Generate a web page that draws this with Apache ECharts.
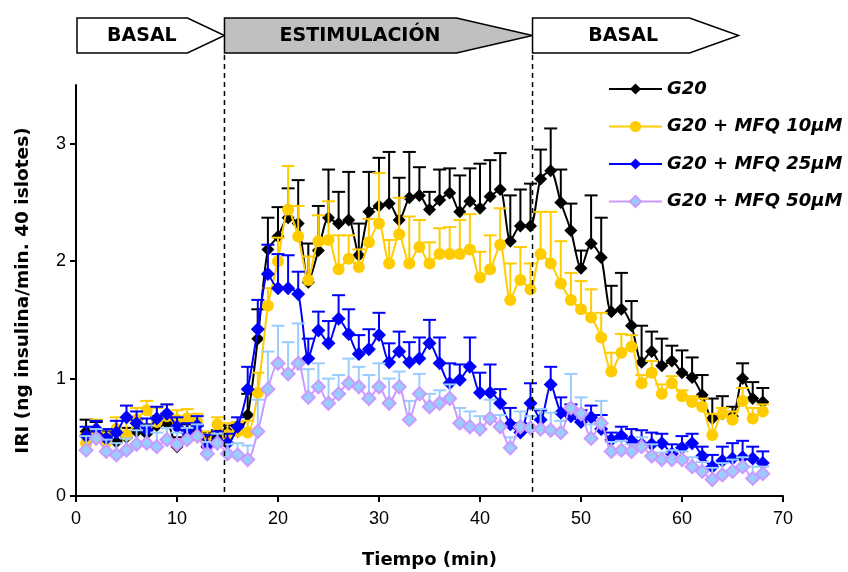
<!DOCTYPE html>
<html><head><meta charset="utf-8">
<script src="https://cdn.jsdelivr.net/npm/echarts@6/dist/echarts.min.js"></script>
<style>html,body{margin:0;padding:0;background:#fff}#c{width:848px;height:572px}</style>
</head><body><div id="c"></div>
<script>
// Time points (min)
const times = [];
for (let t = 1; t <= 68; t++) times.push(t);

const xTicks = [0, 10, 20, 30, 40, 50, 60, 70];
const yTicks = [0, 1, 2, 3];

const seriesNames = ['G20', 'G20 + MFQ 10µM', 'G20 + MFQ 25µM', 'G20 + MFQ 50µM'];
const phaseLabels = ['BASAL', 'ESTIMULACIÓN', 'BASAL'];
const phaseBounds = [14.7, 45.2];

const g20 = [0.55,0.55,0.50,0.46,0.50,0.55,0.53,0.60,0.62,0.42,0.55,0.55,0.48,0.50,0.55,0.55,
  0.69,1.34,2.10,2.21,2.37,2.32,1.82,2.09,2.37,2.32,2.35,2.05,2.42,2.47,2.49,2.35,2.54,2.56,2.44,2.52,
  2.58,2.42,2.51,2.45,2.55,2.61,2.17,2.30,2.30,2.70,2.77,2.50,2.26,1.94,2.15,2.03,1.57,1.59,1.45,1.14,
  1.23,1.11,1.15,1.05,1.01,0.86,0.66,0.70,0.68,1.00,0.83,0.80];
const g20Err = [0.10,0.08,0.05,0.06,0.08,0.10,0.08,0.08,0.08,0.08,0.06,0.05,0.06,0.06,0.05,0.06,
  0.18,0.25,0.27,0.25,0.25,0.37,0.33,0.38,0.41,0.27,0.41,0.27,0.34,0.41,0.44,0.36,0.39,0.24,0.15,0.26,
  0.21,0.31,0.28,0.38,0.31,0.31,0.39,0.31,0.36,0.25,0.36,0.28,0.23,0.15,0.41,0.34,0.22,0.31,0.21,0.31,
  0.17,0.23,0.13,0.19,0.17,0.17,0.17,0.15,0.08,0.13,0.14,0.12];

const mfq10 = [0.45,0.55,0.46,0.57,0.52,0.65,0.73,0.63,0.68,0.65,0.66,0.63,0.45,0.61,0.52,0.55,
  0.54,0.88,1.62,2.00,2.44,2.21,1.84,2.17,2.18,1.93,2.02,1.95,2.16,2.32,1.98,2.23,1.98,2.12,1.98,2.06,
  2.06,2.06,2.10,1.86,1.93,2.14,1.67,1.84,1.76,2.06,1.98,1.81,1.67,1.59,1.52,1.35,1.06,1.22,1.27,0.96,
  1.05,0.87,0.96,0.85,0.80,0.76,0.52,0.70,0.65,0.81,0.66,0.72];
const mfq10Err = [0.08,0.10,0.08,0.10,0.12,0.10,0.08,0.12,0.10,0.08,0.08,0.07,0.10,0.06,0.10,0.08,
  0.10,0.17,0.15,0.20,0.37,0.26,0.20,0.22,0.33,0.29,0.20,0.15,0.20,0.43,0.20,0.31,0.40,0.23,0.18,0.22,
  0.23,0.29,0.30,0.22,0.29,0.31,0.31,0.28,0.22,0.36,0.44,0.36,0.23,0.24,0.24,0.21,0.16,0.16,0.10,0.07,
  0.10,0.08,0.06,0.05,0.05,0.07,0.18,0.05,0.07,0.11,0.09,0.06];

const mfq25 = [0.51,0.57,0.49,0.54,0.67,0.62,0.56,0.66,0.70,0.59,0.54,0.60,0.42,0.47,0.45,0.59,
  0.91,1.42,1.89,1.77,1.77,1.72,1.17,1.41,1.30,1.51,1.38,1.21,1.25,1.37,1.14,1.23,1.14,1.17,1.30,1.13,
  0.96,0.99,1.10,0.88,0.88,0.79,0.61,0.54,0.79,0.65,0.95,0.71,0.68,0.63,0.67,0.57,0.48,0.51,0.47,0.44,
  0.44,0.45,0.36,0.41,0.45,0.34,0.25,0.30,0.32,0.33,0.32,0.28];
const mfq25Err = [0.08,0.07,0.08,0.10,0.10,0.10,0.10,0.10,0.08,0.08,0.08,0.08,0.10,0.08,0.08,0.08,
  0.19,0.25,0.25,0.29,0.28,0.19,0.17,0.16,0.19,0.20,0.21,0.16,0.17,0.19,0.16,0.17,0.17,0.18,0.20,0.22,
  0.17,0.13,0.25,0.17,0.24,0.12,0.14,0.08,0.17,0.08,0.15,0.13,0.10,0.10,0.10,0.12,0.06,0.08,0.10,0.12,
  0.10,0.08,0.08,0.10,0.08,0.08,0.10,0.12,0.13,0.14,0.10,0.10];

const mfq50 = [0.39,0.49,0.38,0.35,0.39,0.44,0.45,0.42,0.48,0.44,0.48,0.51,0.36,0.45,0.36,0.35,
  0.31,0.55,0.91,1.13,1.04,1.13,0.84,0.93,0.79,0.87,0.96,0.93,0.83,0.93,0.79,0.93,0.65,0.87,0.76,0.79,
  0.83,0.62,0.59,0.57,0.66,0.59,0.41,0.59,0.58,0.57,0.56,0.54,0.75,0.70,0.49,0.62,0.38,0.39,0.38,0.42,
  0.34,0.31,0.31,0.31,0.25,0.21,0.14,0.18,0.21,0.25,0.15,0.19];
const mfq50Err = [0.12,0.08,0.10,0.10,0.10,0.12,0.15,0.12,0.10,0.10,0.10,0.10,0.10,0.08,0.08,0.10,
  0.12,0.27,0.32,0.32,0.27,0.34,0.24,0.20,0.21,0.16,0.21,0.17,0.20,0.20,0.21,0.13,0.16,0.17,0.11,0.11,
  0.12,0.13,0.13,0.11,0.16,0.10,0.09,0.13,0.10,0.17,0.15,0.10,0.29,0.14,0.12,0.19,0.08,0.08,0.06,0.08,
  0.10,0.06,0.08,0.07,0.08,0.08,0.10,0.10,0.10,0.08,0.10,0.06];

const chart = echarts.init(document.getElementById('c'), null, {renderer: 'canvas'});

function pairs(vals) { return vals.map((v, i) => [times[i], v]); }

function errSeries(name, vals, errs, color, z) {
  return {
    type: 'custom', name: name + ' err', z: z, silent: true,
    encode: {x: 0, y: [1, 2]},
    data: vals.map((v, i) => [times[i], v, v + errs[i]]),
    renderItem: function (params, api) {
      const p0 = api.coord([api.value(0), api.value(1)]);
      const p1 = api.coord([api.value(0), api.value(2)]);
      const hw = 6.5;
      return {type: 'group', children: [
        {type: 'line', shape: {x1: p0[0], y1: p0[1], x2: p1[0], y2: p1[1]}, style: {stroke: color, lineWidth: 2}},
        {type: 'line', shape: {x1: p1[0] - hw, y1: p1[1], x2: p1[0] + hw, y2: p1[1]}, style: {stroke: color, lineWidth: 2}}
      ]};
    }
  };
}

function lineSeries(name, vals, symbol, size, lineColor, fill, border, z) {
  return {
    type: 'line', name: name, z: z, data: pairs(vals), smooth: 0.25,
    symbol: symbol, symbolSize: size, showSymbol: true,
    lineStyle: {color: lineColor, width: 2},
    itemStyle: {color: fill, borderColor: border, borderWidth: border === fill ? 0 : 2},
    emphasis: {disabled: true}
  };
}

const option = {
  animation: false,
  backgroundColor: '#ffffff',
  grid: {left: 76, right: 65, top: 85, bottom: 76, containLabel: false, outerBoundsMode: 'none'},
  legend: {
    data: seriesNames, orient: 'vertical', left: 603, top: 75,
    itemWidth: 53, itemHeight: 14, itemGap: 19.5,
    textStyle: {fontFamily: 'DejaVu Sans', fontWeight: 'bold', fontStyle: 'italic', fontSize: 18, color: '#000'}
  },
  xAxis: {
    type: 'value', min: 0, max: 70, interval: 10,
    name: 'Tiempo (min)', nameLocation: 'middle', nameGap: 55,
    nameTextStyle: {fontFamily: 'DejaVu Sans', fontWeight: 'bold', fontSize: 18, color: '#000'},
    axisLine: {lineStyle: {color: '#000', width: 2}},
    axisTick: {show: true, length: 6, lineStyle: {color: '#000', width: 2}, customValues: xTicks},
    axisLabel: {fontFamily: 'Liberation Sans', fontSize: 18, color: '#000', margin: 14, customValues: xTicks},
    splitLine: {show: false}
  },
  yAxis: {
    type: 'value', min: 0, max: 3.5, interval: 1,
    name: 'IRI (ng insulina/min. 40 islotes)', nameLocation: 'middle', nameGap: 43, nameRotate: 90,
    nameTextStyle: {fontFamily: 'DejaVu Sans', fontWeight: 'bold', fontSize: 18.5, color: '#000'},
    axisLine: {show: true, lineStyle: {color: '#000', width: 2}},
    axisTick: {show: true, length: 6, lineStyle: {color: '#000', width: 2}, customValues: yTicks},
    axisLabel: {fontFamily: 'Liberation Sans', fontSize: 18, color: '#000', margin: 10, customValues: yTicks},
    splitLine: {show: false}
  },
  series: [
    errSeries('G20', g20, g20Err, '#000000', 2),
    lineSeries(seriesNames[0], g20, 'diamond', 13, '#000000', '#000000', '#000000', 3),
    errSeries('10', mfq10, mfq10Err, '#FFCC00', 4),
    lineSeries(seriesNames[1], mfq10, 'circle', 12, '#FFCC00', '#FFCC00', '#FFCC00', 5),
    errSeries('25', mfq25, mfq25Err, '#0000FF', 6),
    lineSeries(seriesNames[2], mfq25, 'diamond', 14, '#0000FF', '#0000FF', '#0000FF', 7),
    errSeries('50', mfq50, mfq50Err, '#99CCFF', 8),
    lineSeries(seriesNames[3], mfq50, 'diamond', 13, '#CC99FF', '#99CCFF', '#CC99FF', 9)
  ]
};
chart.setOption(option);

// Phase header arrows and dashed boundaries, positioned through the axis scale
const xPx = v => chart.convertToPixel({xAxisIndex: 0}, v);
const yZero = chart.convertToPixel({yAxisIndex: 0}, 0);
const b0 = xPx(0) + 1, b1 = xPx(phaseBounds[0]), b2 = xPx(phaseBounds[1]), b3 = xPx(65.6);
const hTop = 18, hBot = 53, hMid = 35.5;
function arrow(l, r, depth, fill) {
  return {type: 'polygon', shape: {points: [[l, hTop], [r - depth, hTop], [r, hMid], [r - depth, hBot], [l, hBot]]},
    style: {fill: fill, stroke: '#000', lineWidth: 1.5}, z: 10};
}
function label(text, l, r) {
  return {type: 'text', x: l + 0.44 * (r - l), y: hMid + 1, z: 11,
    style: {text: text, align: 'center', verticalAlign: 'middle', fontFamily: 'DejaVu Sans', fontWeight: 'bold', fontSize: 19, fill: '#000'}};
}
function dashed(x) {
  return {type: 'line', shape: {x1: x, y1: 55, x2: x, y2: yZero}, z: 10,
    style: {stroke: '#000', lineWidth: 1.5, lineDash: [5, 4]}};
}
chart.setOption({graphic: [
  arrow(b0, b1, 37, '#ffffff'), arrow(b1, b2, 76, '#C0C0C0'), arrow(b2, b3, 49, '#ffffff'),
  label(phaseLabels[0], b0, b1), label(phaseLabels[1], b1, b2), label(phaseLabels[2], b2, b3),
  dashed(b1), dashed(b2)
]});
</script>
</body></html>
